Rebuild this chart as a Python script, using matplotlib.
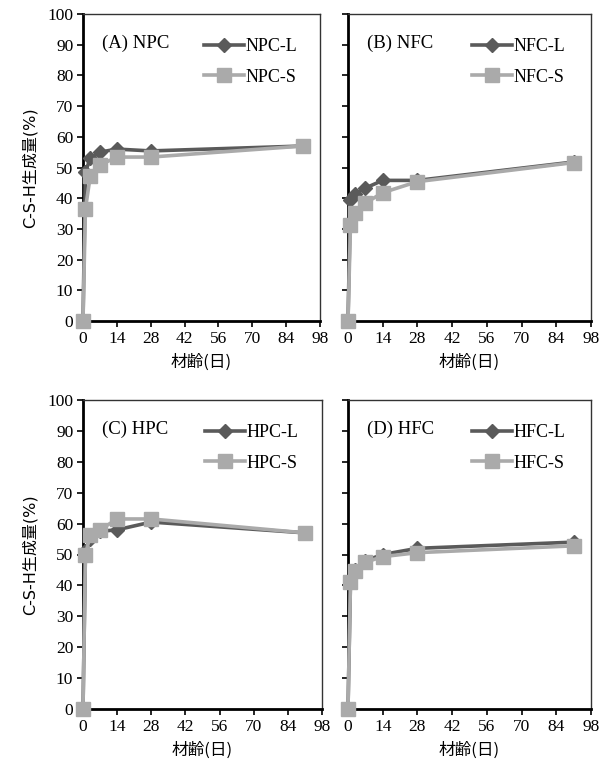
import matplotlib.pyplot as plt
import numpy as np

plt.rcParams['font.family'] = ['Liberation Serif', 'Noto Sans CJK JP']

days = [0, 1, 3, 7, 14, 28, 91]

npc_l = [0, 48.5, 53, 55, 56, 55.4, 57]
npc_s = [0, 36.5, 47.2, 50.8, 53.4, 53.4, 57]
nfc_l = [0, 39.4, 41.5, 43.3, 45.8, 45.8, 51.8]
nfc_s = [0, 31.3, 35.2, 38.4, 41.8, 45.4, 51.6]
hpc_l = [0, 51, 55, 57.5, 58, 60.5, 57]
hpc_s = [0, 50, 56.4, 58, 61.5, 61.5, 57]
hfc_l = [0, 41.5, 45, 48, 50, 52, 54]
hfc_s = [0, 41, 44.5, 47.5, 49.3, 50.6, 52.8]

panels = [
    ('(A) NPC', 'NPC', npc_l, npc_s),
    ('(B) NFC', 'NFC', nfc_l, nfc_s),
    ('(C) HPC', 'HPC', hpc_l, hpc_s),
    ('(D) HFC', 'HFC', hfc_l, hfc_s),
]

# axes boxes in pixels: left, right, top, bottom
boxes = [(83, 320, 14, 321), (348, 591, 14, 321),
         (83, 322, 400, 709), (348, 591, 400, 709)]

W, H = 609, 769
fig = plt.figure(figsize=(W / 100, H / 100), dpi=100)

dark = '#5a5a5a'
light = '#aaaaaa'

for i, (title, name, l_vals, s_vals) in enumerate(panels):
    x0, x1, y0, y1 = boxes[i]
    ax = fig.add_axes([x0 / W, 1 - y1 / H, (x1 - x0) / W, (y1 - y0) / H])
    ax.plot(days, l_vals, color=dark, lw=2.6, marker='D', ms=7,
            label=name + '-L', clip_on=False, zorder=3)
    ax.plot(days, s_vals, color=light, lw=2.6, marker='s', ms=9.5,
            label=name + '-S', clip_on=False, zorder=4)
    ax.set_xlim(0, 98)
    ax.set_ylim(0, 100)
    ax.set_xticks(np.arange(0, 99, 14))
    ax.set_yticks(np.arange(0, 101, 10))
    ax.tick_params(direction='out', length=4, width=1.2, labelsize=12.5,
                   pad=3)
    for s in ['left', 'bottom']:
        ax.spines[s].set_linewidth(2)
        ax.spines[s].set_color('black')
    for s in ['top', 'right']:
        ax.spines[s].set_linewidth(1)
        ax.spines[s].set_color('#333333')
    ax.set_xlabel('材齢(日)', family=['Noto Sans CJK JP'], fontsize=12,
                  labelpad=5)
    if i % 2 == 0:
        ax.set_ylabel('C-S-H生成量(%)', family=['DejaVu Sans', 'Noto Sans CJK JP'],
                      fontsize=11.5, labelpad=7)
    else:
        ax.tick_params(axis='y', labelleft=False)
    ax.text(0.08, 0.905, title, transform=ax.transAxes, fontsize=13.5,
            va='center', ha='left')
    ax.legend(loc='upper left', bbox_to_anchor=(0.48, 0.945), frameon=False,
              fontsize=13, handlelength=2.2, handletextpad=0.1,
              labelspacing=0.75, borderaxespad=0)

plt.savefig('out.png', dpi=100)
